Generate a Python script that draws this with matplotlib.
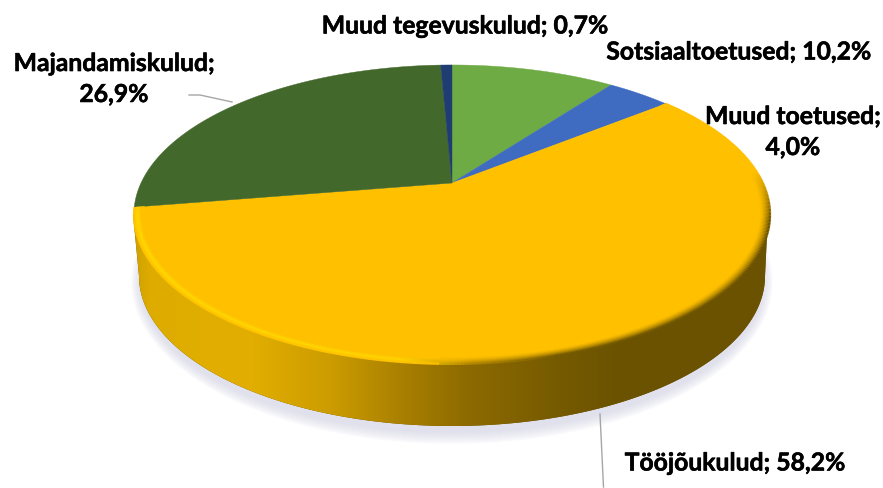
import numpy as np
import matplotlib
matplotlib.use('Agg')
import matplotlib.pyplot as plt
import matplotlib.patheffects as pe
from matplotlib.collections import LineCollection
from matplotlib.patches import Polygon

labels = ['Sotsiaaltoetused', 'Muud toetused', 'Tööjõukulud', 'Majandamiskulud', 'Muud tegevuskulud']
values = [10.2, 4.0, 58.2, 26.9, 0.7]
colors = ['#6FAB45', '#3F6BC0', '#FFC000', '#43682B', '#1F3D70']
# where each label sits and whether it wraps after the semicolon
label_xy = [(739, 53), (793, 133), (735, 464), (114, 80), (465, 27)]
label_wrap = [False, True, False, True, False]

plt.rcParams['font.family'] = ['Lato', 'DejaVu Sans']

fig = plt.figure(figsize=(8.83, 4.89), dpi=100)
ax = fig.add_axes([0, 0, 1, 1])
ax.set_xlim(0, 883)
ax.set_ylim(489, 0)
ax.axis('off')

cx, cy = 452, 184
a, b, k = 311, 142.9, 0.2107


# tilted disc: angle is clockwise from the top, s shrinks towards the rim inside
def project(ang, s=1.0):
    u = s * np.sin(ang)
    v = s * np.cos(ang)
    d = 1 + k * v
    return cx + a * u / d, cy - b * v / d


# soft shadow under the disc
t = np.linspace(0, 2 * np.pi, 300)
for grow in range(12, 0, -1):
    sx = 452 + (311 + grow * 0.8) * np.cos(t)
    sy = 283 + (150 + grow) * np.sin(t)
    ax.fill(sx, sy, color='#D4D4E6', alpha=0.07, lw=0, zorder=1)

# side wall with gradient along x
t = np.linspace(np.pi, 0, 300)
side = np.vstack([[[133, 215]], np.column_stack([452 + 313 * np.cos(t), 277 + 150 * np.sin(t)]), [[768, 215]]])
poly = Polygon(side, closed=True, fc='#6B5200', ec='none', zorder=2)
ax.add_patch(poly)
grad_x = [133, 150, 250, 330, 400, 470, 560, 620, 768]
grad_c = np.array([[205, 160, 0], [222, 172, 0], [226, 174, 0], [204, 156, 0], [170, 128, 0],
                   [140, 106, 0], [118, 90, 0], [106, 82, 0], [107, 82, 0]]) / 255
xs = np.arange(125, 776)
img = np.stack([np.interp(xs, grad_x, grad_c[:, i]) for i in range(3)], axis=-1)[None, :, :]
im = ax.imshow(img, extent=[125, 776, 440, 200], aspect='auto', zorder=3)
im.set_clip_path(poly)
ax.set_xlim(0, 883)
ax.set_ylim(489, 0)

# top face
start = 0.0
edges = []
for val, col in zip(values, colors):
    end = start + val / sum(values) * 2 * np.pi
    ang = np.linspace(start, end, max(int(val * 6), 8))
    px, py = project(ang)
    ax.fill(np.r_[cx, px], np.r_[cy, py], color=col, lw=0.3, ec=col, zorder=4)
    edges.append((start, end))
    start = end

# bevel on the rim of the big slice
top_rgb = np.array([255, 192, 0]) / 255
ang = np.linspace(edges[2][0], edges[2][1], 400)
mid = (ang[:-1] + ang[1:]) / 2
for s in np.linspace(0.97, 1.0, 9):
    px, py = project(ang, s)
    segs = np.stack([np.column_stack([px[:-1], py[:-1]]), np.column_stack([px[1:], py[1:]])], axis=1)
    mx, _ = project(mid, s)
    front = np.clip((-np.cos(mid) + 0.08) * 3, 0, 1)
    edge = np.stack([np.interp(mx, [133, 400, 470, 560, 768], c) for c in
                     ([1, 1, 0.70, 0.45, 0.42], [0.88, 0.86, 0.53, 0.35, 0.32], [0, 0, 0, 0, 0])], axis=-1)
    w_left = (1 - np.abs((s - 0.99) / 0.012)).clip(0, 1) * 0.8
    w_right = ((s - 0.97) / 0.03) ** 1.5
    w = np.where(mx < 440, w_left, w_right) * front
    rgb = top_rgb + (edge - top_rgb) * w[:, None]
    ax.add_collection(LineCollection(segs, colors=rgb, linewidths=1.4, zorder=5))

# leader lines
ax.plot([189, 200, 232], [96, 96, 103], color='#A6A6A6', lw=1, zorder=6)
ax.plot([600, 603.5], [415, 488], color='#A6A6A6', lw=1, zorder=6)

for name, val, (x, y), wrap in zip(labels, values, label_xy, label_wrap):
    pct = f'{val:.1f}'.replace('.', ',') + '%'
    txt = f'{name};\n{pct}' if wrap else f'{name}; {pct}'
    ax.text(x, y, txt, ha='center', va='center', fontsize=17.8, fontweight='bold',
            color='black', linespacing=1.42, zorder=7,
            path_effects=[pe.withStroke(linewidth=0.4, foreground='black')])

fig.savefig('out.png', dpi=100)
